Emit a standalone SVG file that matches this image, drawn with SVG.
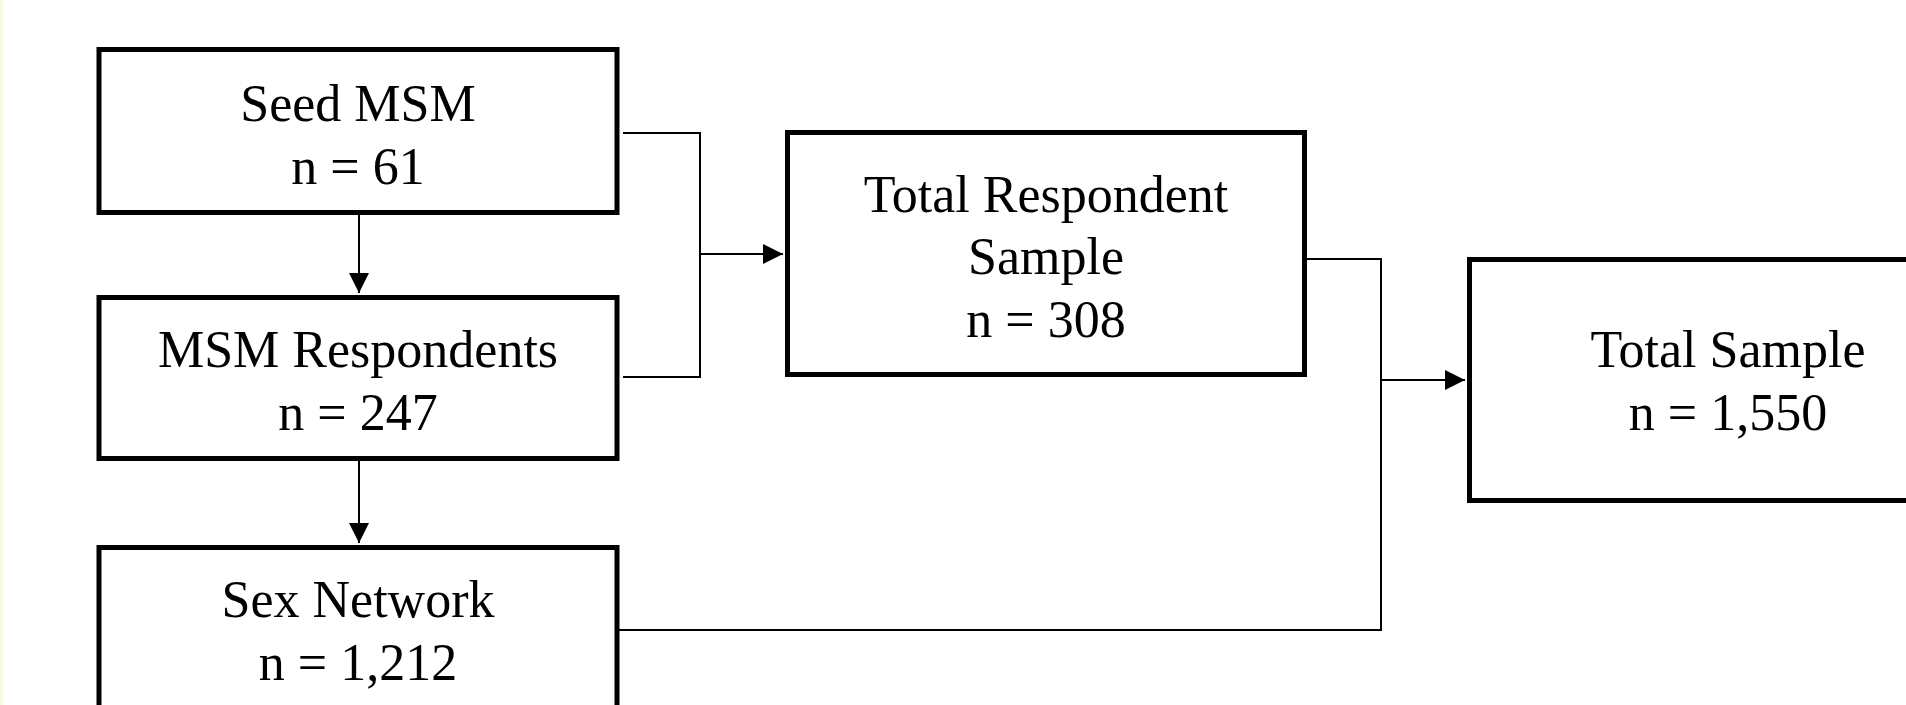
<svg xmlns="http://www.w3.org/2000/svg" width="1906" height="705" viewBox="0 0 1906 705">
<style>
.box{fill:#ffffff;stroke:#000000;stroke-width:5}
.lbl{font-family:"Liberation Serif","Times New Roman",serif;font-size:52px;fill:#000000;text-anchor:middle}
.con{fill:none;stroke:#000000;stroke-width:2}
</style>
<defs>
<marker id="arr" viewBox="0 0 10 10" refX="10" refY="5" markerWidth="9" markerHeight="9" markerUnits="userSpaceOnUse" orient="auto">
<path d="M0,0 L10,5 L0,10 Z" fill="#000000"/>
</marker>
<marker id="arrh" viewBox="0 0 10 10" refX="10" refY="5" markerWidth="20" markerHeight="20" markerUnits="userSpaceOnUse" orient="auto">
<path d="M0,0 L10,5 L0,10 Z" fill="#000000"/>
</marker>
</defs>
<rect x="0" y="0" width="1906" height="705" fill="#ffffff"/>
<rect x="0" y="0" width="3" height="705" fill="#fbf8e4"/>
<g id="connectors">
<path class="con" d="M359,215 L359,293" marker-end="url(#arrh)"/>
<path class="con" d="M359,461 L359,543" marker-end="url(#arrh)"/>
<path class="con" d="M623,133 L700,133 L700,377 L623,377"/>
<path class="con" d="M700,254 L783,254" marker-end="url(#arrh)"/>
<path class="con" d="M1307,259 L1381,259 L1381,630 L619,630"/>
<path class="con" d="M1381,380 L1465,380" marker-end="url(#arrh)"/>
</g>
<g id="seed">
<rect class="box" x="99" y="49.5" width="518" height="163"/>
<text class="lbl" x="358" y="121">Seed MSM</text>
<text class="lbl" x="358" y="184">n = 61</text>
</g>
<g id="respondents">
<rect class="box" x="99" y="297.5" width="518" height="161"/>
<text class="lbl" x="358" y="367">MSM Respondents</text>
<text class="lbl" x="358" y="430">n = 247</text>
</g>
<g id="sexnetwork">
<rect class="box" x="99" y="547.5" width="518" height="200"/>
<text class="lbl" x="358" y="617">Sex Network</text>
<text class="lbl" x="358" y="680">n = 1,212</text>
</g>
<g id="totalrespondent">
<rect class="box" x="787.5" y="132.5" width="517" height="242"/>
<text class="lbl" x="1046" y="212">Total Respondent</text>
<text class="lbl" x="1046" y="274">Sample</text>
<text class="lbl" x="1046" y="337">n = 308</text>
</g>
<g id="totalsample">
<rect class="box" x="1469.5" y="259.5" width="517" height="241"/>
<text class="lbl" x="1728" y="367">Total Sample</text>
<text class="lbl" x="1728" y="430">n = 1,550</text>
</g>
</svg>
